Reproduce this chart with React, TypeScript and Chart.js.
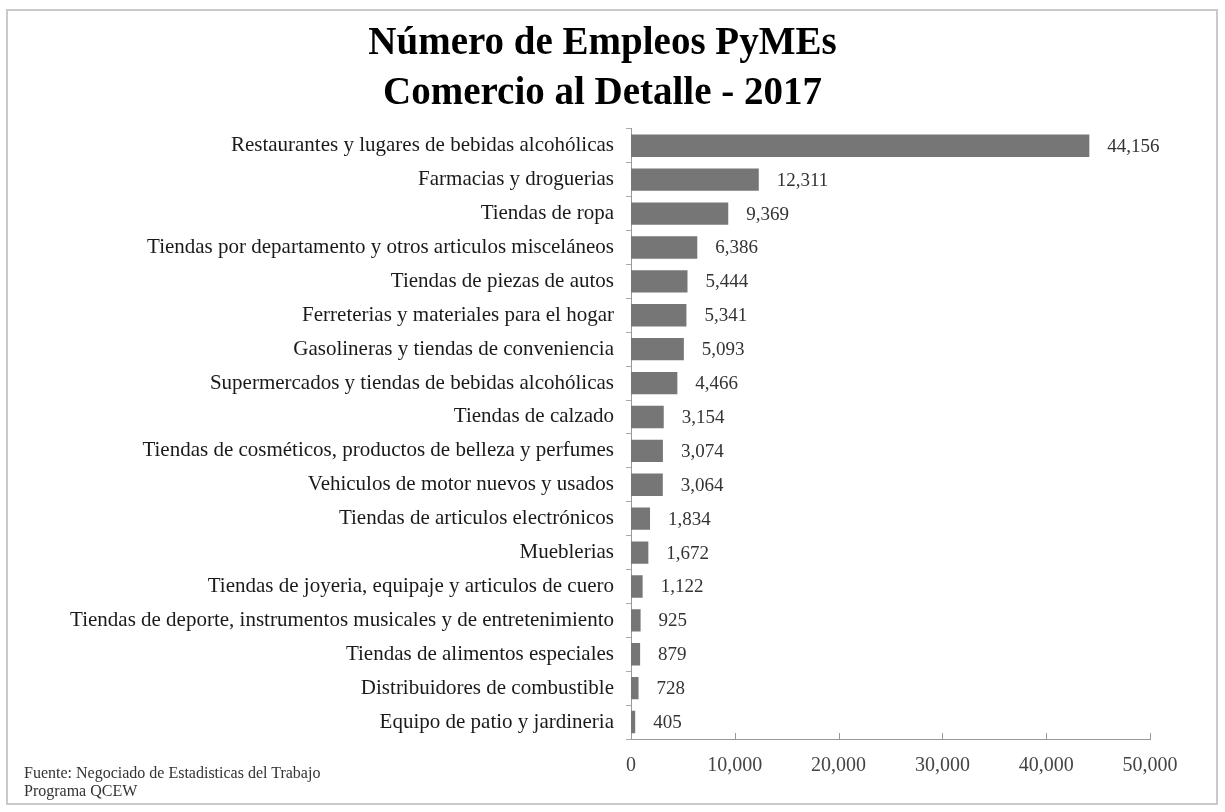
import React, { useEffect, useRef } from "react";
import { Chart, registerables } from "chart.js";

Chart.register(...registerables);

const categories: string[] = [
  "Restaurantes y lugares de bebidas alcohólicas",
  "Farmacias y droguerias",
  "Tiendas de ropa",
  "Tiendas por departamento y otros articulos misceláneos",
  "Tiendas de piezas de autos",
  "Ferreterias y materiales para el hogar",
  "Gasolineras y tiendas de conveniencia",
  "Supermercados y tiendas de bebidas alcohólicas",
  "Tiendas de calzado",
  "Tiendas de cosméticos, productos de belleza y perfumes",
  "Vehiculos de motor nuevos y usados",
  "Tiendas de articulos electrónicos",
  "Mueblerias",
  "Tiendas de joyeria, equipaje y articulos de cuero",
  "Tiendas de deporte, instrumentos musicales y de entretenimiento",
  "Tiendas de alimentos especiales",
  "Distribuidores de combustible",
  "Equipo de patio y jardineria",
];

const empleos: number[] = [
  44156, 12311, 9369, 6386, 5444, 5341, 5093, 4466, 3154, 3074, 3064, 1834,
  1672, 1122, 925, 879, 728, 405,
];

const titleLines: string[] = ["Número de Empleos PyMEs", "Comercio al Detalle - 2017"];
const sourceLines: string[] = ["Fuente: Negociado de Estadisticas del Trabajo", "Programa QCEW"];
const xMin = 0;
const xMax = 50000;
const xStep = 10000;

const SERIF = "'Liberation Serif', 'Times New Roman', serif";

const valueLabelPlugin = {
  id: "valueLabels",
  afterDatasetsDraw(chart: any) {
    const ctx = chart.ctx;
    const meta = chart.getDatasetMeta(0);
    ctx.save();
    ctx.font = `19px ${SERIF}`;
    ctx.fillStyle = "#333";
    ctx.textAlign = "left";
    ctx.textBaseline = "middle";
    meta.data.forEach((bar: any, i: number) => {
      const v = chart.data.datasets[0].data[i] as number;
      ctx.fillText(v.toLocaleString("en-US"), bar.x + 18, bar.y + 1);
    });
    ctx.restore();
  },
};

const innerTicksPlugin = {
  id: "innerTicks",
  afterDraw(chart: any) {
    const ctx = chart.ctx;
    const xs = chart.scales.x;
    const y0 = chart.chartArea.bottom;
    ctx.save();
    ctx.strokeStyle = "#999";
    ctx.lineWidth = 1;
    xs.ticks.forEach((t: any) => {
      const x = Math.round(xs.getPixelForValue(t.value)) + 0.5;
      ctx.beginPath();
      ctx.moveTo(x, y0);
      ctx.lineTo(x, y0 - 6);
      ctx.stroke();
    });
    ctx.restore();
  },
};

export default function App() {
  const canvasRef = useRef<HTMLCanvasElement | null>(null);

  useEffect(() => {
    if (!canvasRef.current) return;
    const chart = new Chart(canvasRef.current, {
      type: "bar",
      data: {
        labels: categories,
        datasets: [
          {
            data: empleos,
            backgroundColor: "#767676",
            borderWidth: 0,
            barPercentage: 0.66,
            categoryPercentage: 1,
          },
        ],
      },
      options: {
        indexAxis: "y",
        animation: false,
        responsive: false,
        maintainAspectRatio: false,
        layout: { padding: { left: 55, right: 75, top: 0, bottom: 33 } },
        plugins: {
          legend: { display: false },
          tooltip: { enabled: false },
          title: {
            display: true,
            text: titleLines,
            color: "#000",
            font: { family: SERIF, size: 39, weight: "bold", lineHeight: 1.28 },
            padding: { top: 19, bottom: 10 },
          },
        },
        scales: {
          x: {
            type: "linear",
            min: xMin,
            max: xMax,
            afterFit: (s: any) => {
              s.height = 40;
            },
            grid: { display: false, drawTicks: false },
            border: { display: true, color: "#999", width: 1 },
            ticks: {
              stepSize: xStep,
              padding: 15,
              color: "#444",
              font: { family: SERIF, size: 20 },
              callback: (v: any) => Number(v).toLocaleString("en-US"),
            },
          },
          y: {
            type: "category",
            afterFit: (s: any) => {
              s.width = 576;
            },
            grid: {
              display: true,
              drawOnChartArea: false,
              drawTicks: true,
              tickLength: 5,
              color: "#aaa",
              offset: true,
            },
            border: { display: true, color: "#999", width: 1 },
            ticks: {
              autoSkip: false,
              padding: 12,
              color: "#1a1a1a",
              font: { family: SERIF, size: 21 },
            },
          },
        },
      },
      plugins: [valueLabelPlugin, innerTicksPlugin],
    });
    return () => chart.destroy();
  }, []);

  return (
    <div
      style={{
        position: "absolute",
        left: 0,
        top: 0,
        width: 1225,
        height: 812,
        background: "#fff",
        overflow: "hidden",
      }}
    >
      <div
        style={{
          position: "absolute",
          left: 6,
          top: 9,
          width: 1212,
          height: 796,
          border: "2px solid #c9c9c9",
          boxSizing: "border-box",
        }}
      />
      <canvas
        ref={canvasRef}
        width={1225}
        height={812}
        style={{ position: "absolute", left: 0, top: 0, width: 1225, height: 812 }}
      />
      <div
        style={{
          position: "absolute",
          left: 24,
          top: 764,
          fontFamily: SERIF,
          fontSize: 16,
          lineHeight: "18px",
          color: "#333",
        }}
      >
        {sourceLines.map((l) => (
          <div key={l}>{l}</div>
        ))}
      </div>
    </div>
  );
}
